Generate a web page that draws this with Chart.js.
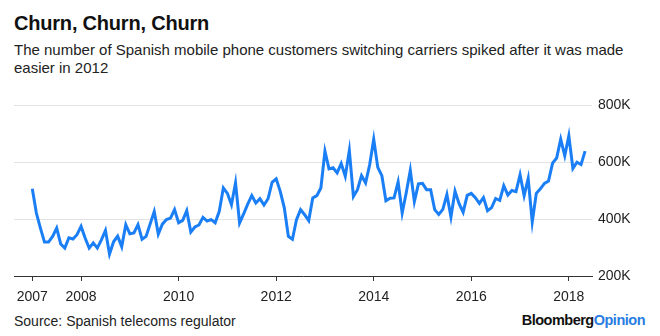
<!DOCTYPE html>
<html>
<head>
<meta charset="utf-8">
<script src="https://cdn.jsdelivr.net/npm/chart.js@4"></script>
<style>
  body { margin: 0; background: #fff; font-family: "Liberation Sans", Arial, sans-serif; color: #111; }
  #wrap { position: relative; width: 660px; height: 336px; overflow: hidden; background: #fff; }
  h1 { position: absolute; left: 14px; top: 12px; margin: 0; font-size: 20px; font-weight: bold; letter-spacing: -0.2px; }
  .sub { position: absolute; left: 14px; top: 41px; font-size: 15px; line-height: 18px; color: #222; }
  #grafico { position: absolute; left: 0; top: 90px; }
  .fonte { position: absolute; left: 14px; top: 313px; font-size: 14px; color: #222; }
  .marca { position: absolute; right: 15px; top: 312px; font-size: 14.5px; font-weight: bold; letter-spacing: -0.5px; }
  .marca span { color: #2a7de1; }
</style>
</head>
<body>
<div id="wrap">
  <h1>Churn, Churn, Churn</h1>
  <div class="sub">The number of Spanish mobile phone customers switching carriers spiked after it was made<br>easier in 2012</div>
  <canvas id="grafico" width="660" height="214"></canvas>
  <div class="fonte">Source: Spanish telecoms regulator</div>
  <div class="marca">Bloomberg<span>Opinion</span></div>
</div>
<script>
// portabilidades mensais (milhares), jan 2007 - mai 2018
const anoInicial = 2007;
const portabilidades = [
  506, 421, 368, 319, 319, 339, 368, 312, 298, 334, 330, 345,
  374, 333, 298, 316, 298, 327, 360, 277, 320, 340, 303, 380,
  348, 351, 380, 329, 339, 383, 426, 347, 382, 398, 403, 433,
  387, 395, 429, 354, 372, 379, 406, 393, 398, 387, 427, 509,
  490, 450, 527, 386, 418, 452, 482, 456, 471, 449, 471, 529,
  541, 497, 439, 339, 329, 398, 433, 415, 394, 474, 482, 509,
  638, 576, 580, 562, 595, 550, 640, 479, 503, 552, 527, 590,
  680, 581, 552, 464, 473, 474, 530, 421, 492, 571, 461, 523,
  525, 503, 503, 433, 416, 434, 486, 407, 498, 454, 424, 483,
  490, 475, 455, 475, 429, 440, 472, 465, 517, 484, 500, 496,
  555, 482, 542, 390, 490, 506, 525, 533, 596, 614, 680, 622,
  692, 577, 599, 591, 638
];
const anosEixo = [2007, 2008, 2010, 2012, 2014, 2016, 2018];
const valoresEixo = [200, 400, 600, 800];

const fonte = { family: '"Liberation Sans", Arial, sans-serif', size: 14 };

const ctx = document.getElementById('grafico').getContext('2d');
const chart = new Chart(ctx, {
  type: 'line',
  data: {
    datasets: [{
      data: portabilidades.map((v, i) => ({ x: anoInicial + i / 12, y: v })),
      borderColor: '#1a7ef5',
      borderWidth: 3,
      pointRadius: 0,
      tension: 0,
      fill: false
    }]
  },
  options: {
    responsive: false,
    animation: false,
    layout: { padding: { left: 14, top: 15, right: 0, bottom: 0 } },
    plugins: { legend: { display: false }, tooltip: { enabled: false } },
    scales: {
      x: {
        type: 'linear',
        min: 2006.625,
        max: 2018.475,
        afterBuildTicks: s => { s.ticks = anosEixo.map(v => ({ value: v })); },
        afterFit: s => { s.height = 28; },
        grid: { drawOnChartArea: false, drawTicks: true, tickLength: 5, color: '#333' },
        border: { display: true, color: '#333', width: 1 },
        ticks: { autoSkip: false, maxRotation: 0, padding: 8, color: '#222', font: fonte, callback: v => String(v) }
      },
      y: {
        position: 'right',
        min: 200,
        max: 800,
        afterBuildTicks: s => { s.ticks = valoresEixo.map(v => ({ value: v })); },
        afterFit: s => { s.width = 68; },
        grid: { drawTicks: false, color: c => (c.tick && c.tick.value === 200) ? 'rgba(0,0,0,0)' : '#e3e3e3' },
        border: { display: false },
        ticks: { padding: 6, color: '#222', font: fonte, callback: v => v + 'K' }
      }
    }
  }
});
</script>
</body>
</html>
